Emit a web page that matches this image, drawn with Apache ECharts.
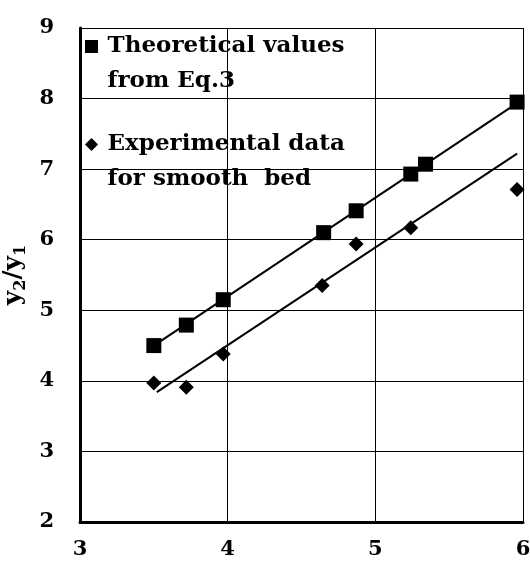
<!DOCTYPE html>
<html>
<head>
<meta charset="utf-8">
<script src="https://cdn.jsdelivr.net/npm/echarts@6/dist/echarts.min.js"></script>
<style>
html,body{margin:0;padding:0;background:#fff;}
#chart{width:530px;height:570px;}
</style>
</head>
<body>
<div id="chart"></div>
<script>
// data
var theoX = [3.50, 3.72, 3.97, 4.65, 4.87, 5.24, 5.34, 5.96];
var theoY = [4.50, 4.79, 5.15, 6.10, 6.41, 6.93, 7.07, 7.95];
var expX = [3.50, 3.72, 3.97, 4.64, 4.87, 5.24, 5.96];
var expY = [3.97, 3.91, 4.38, 5.35, 5.94, 6.17, 6.71];
// fitted lines (end points)
var theoFitX = [3.50, 5.97];
var theoFitY = [4.50, 7.95];
var expFitX = [3.52, 5.96];
var expFitY = [3.84, 7.22];
var xTicks = [3, 4, 5, 6];
var yTicks = [2, 3, 4, 5, 6, 7, 8, 9];
var names = ['Theoretical values\nfrom Eq.3', 'Experimental data\nfor smooth  bed'];

function pairs(xs, ys) {
    return xs.map(function (x, i) { return [x, ys[i]]; });
}

var font = '"DejaVu Serif", "Liberation Serif", serif';
var chart = echarts.init(document.getElementById('chart'));
chart.setOption({
    animation: false,
    backgroundColor: '#fff',
    grid: {left: 80, right: 7, top: 28, bottom: 48, outerBoundsMode: 'none'},
    legend: {
        left: 85,
        top: -6,
        padding: 0,
        orient: 'vertical',
        itemGap: -7,
        itemWidth: 13,
        itemHeight: 13,
        data: [
            {name: names[0], icon: 'rect'},
            {name: names[1], icon: 'diamond'}
        ],
        // blank first line so the marker sits on the first text line
        formatter: function (name) {
            return ' \n' + name.split('\n').map(function (s) { return '\u2009' + s; }).join('\n');
        },
        textStyle: {
            fontFamily: font,
            fontWeight: 'bold',
            fontSize: 23,
            color: '#000',
            lineHeight: 35
        }
    },
    xAxis: {
        type: 'value',
        min: 3, max: 6, interval: 1,
        axisLine: {show: true, onZero: false, lineStyle: {color: '#000', width: 3}},
        axisTick: {show: false},
        splitLine: {show: true, lineStyle: {color: '#000', width: 1}},
        axisLabel: {
            margin: 17,
            fontFamily: font, fontWeight: 'bold', fontSize: 21, color: '#000',
            formatter: function (v) { return xTicks.indexOf(v) >= 0 ? String(v) : ''; }
        }
    },
    yAxis: {
        type: 'value',
        min: 2, max: 9, interval: 1,
        name: '{a|y}{s|2}{a|/y}{s|1}',
        nameLocation: 'middle',
        nameGap: 49,
        nameRotate: 90,
        nameTextStyle: {
            rich: {
                a: {fontFamily: font, fontWeight: 'bold', fontSize: 25, color: '#000'},
                s: {fontFamily: font, fontWeight: 'bold', fontSize: 16, color: '#000', verticalAlign: 'bottom', padding: [14, 0, 0, 0]}
            }
        },
        axisLine: {show: true, onZero: false, lineStyle: {color: '#000', width: 3}},
        axisTick: {show: false},
        splitLine: {show: true, lineStyle: {color: '#000', width: 1}},
        axisLabel: {
            margin: 26,
            fontFamily: font, fontWeight: 'bold', fontSize: 21, color: '#000',
            formatter: function (v) { return yTicks.indexOf(v) >= 0 ? String(v) : ''; }
        }
    },
    series: [
        {
            name: names[0],
            type: 'scatter',
            symbol: 'rect',
            symbolSize: 15,
            itemStyle: {color: '#000', opacity: 1},
            data: pairs(theoX, theoY),
            z: 3
        },
        {
            name: names[1],
            type: 'scatter',
            symbol: 'diamond',
            symbolSize: 15,
            itemStyle: {color: '#000', opacity: 1},
            data: pairs(expX, expY),
            z: 3
        },
        {
            type: 'line',
            symbol: 'none',
            lineStyle: {color: '#000', width: 2},
            data: pairs(theoFitX, theoFitY)
        },
        {
            type: 'line',
            symbol: 'none',
            lineStyle: {color: '#000', width: 2},
            data: pairs(expFitX, expFitY)
        }
    ]
});
</script>
</body>
</html>
